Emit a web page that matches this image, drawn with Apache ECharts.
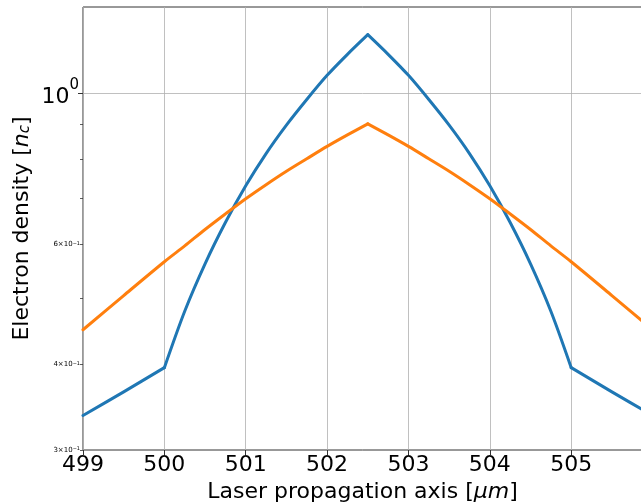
<!DOCTYPE html>
<html>
<head>
<meta charset="utf-8">
<script src="https://cdn.jsdelivr.net/npm/echarts@6/dist/echarts.min.js"></script>
<style>html,body{margin:0;padding:0;background:#fff}#c{width:641px;height:502px}</style>
</head>
<body>
<div id="c"></div>
<script>
// ---- data ----
const xValues = [499, 499.5, 500, 500.25, 500.5, 500.75, 501, 501.25, 501.5, 501.75, 502, 502.25, 502.5,
                 502.75, 503, 503.25, 503.5, 503.75, 504, 504.25, 504.5, 504.75, 505, 505.5, 506];
const blueDensity = [0.337, 0.365, 0.396, 0.479, 0.562, 0.646, 0.731, 0.815, 0.897, 0.978, 1.061, 1.139, 1.217,
                     1.139, 1.061, 0.978, 0.897, 0.815, 0.731, 0.646, 0.562, 0.479, 0.396, 0.365, 0.337];
const orangeDensity = [0.450, 0.505, 0.566, 0.597, 0.631, 0.665, 0.700, 0.734, 0.768, 0.801, 0.835, 0.868, 0.901,
                       0.868, 0.835, 0.801, 0.768, 0.734, 0.700, 0.665, 0.631, 0.597, 0.566, 0.505, 0.450];
const blueKinks = [500, 502.5, 505];
const orangeKinks = [502.5];
const xMin = 499, xMax = 505.87;
const yMin = 0.3, yMax = 1.336;
const majorTickVals = [1];
const minorTickVals = [0.3, 0.4, 0.5, 0.6, 0.7, 0.8, 0.9];
const minorLabelVals = [0.3, 0.4, 0.6];

const FONT = 'DejaVu Sans';
const L = Math.log10;

// split a curve into smooth pieces at its kinks (pieces share the kink point)
function pieces(xs, ys, kinks) {
  const out = [];
  let cur = [];
  xs.forEach((x, i) => {
    cur.push([x, ys[i]]);
    if (kinks.indexOf(x) >= 0) { out.push(cur); cur = [[x, ys[i]]]; }
  });
  if (cur.length > 1) out.push(cur);
  return out;
}
function lineSeries(xs, ys, kinks, color, z) {
  return pieces(xs, ys, kinks).map(d => ({
    type: 'line', xAxisIndex: 0, yAxisIndex: 0, data: d,
    showSymbol: false, symbol: 'none', clip: true, smooth: 0.3,
    lineStyle: {color: color, width: 3, cap: 'round', join: 'round'}, z: z
  }));
}

const series = [].concat(
  lineSeries(xValues, blueDensity, blueKinks, '#1f77b4', 3),
  lineSeries(xValues, orangeDensity, orangeKinks, '#ff7f0e', 4)
);
series[0].markLine = {
  silent: true, symbol: ['none', 'none'], label: {show: false},
  lineStyle: {color: '#b0b0b0', width: 0.8, type: 'solid'},
  data: majorTickVals.map(v => ({yAxis: v})), z: 1
};

const chart = echarts.init(document.getElementById('c'), null, {renderer: 'canvas'});
chart.setOption({
  animation: false,
  backgroundColor: '#fff',
  grid: {left: 83, top: 7, right: -1, bottom: 52, show: true, borderColor: '#333', borderWidth: 1,
         containLabel: false, outerBoundsMode: 'none'},
  xAxis: {
    type: 'value', min: xMin, max: xMax, interval: 1,
    axisLine: {show: false, onZero: false},
    axisTick: {show: true, inside: false, length: 5, lineStyle: {color: '#333', width: 1}},
    axisLabel: {fontFamily: FONT, fontSize: 22, color: '#000', margin: 4, showMaxLabel: false},
    splitLine: {show: true, lineStyle: {color: '#b0b0b0', width: 0.8}},
    name: 'Laser propagation axis [{i|μm}]',
    nameLocation: 'middle', nameGap: 27,
    nameTextStyle: {fontFamily: FONT, fontSize: 22, color: '#000',
      rich: {i: {fontFamily: FONT, fontSize: 22, fontStyle: 'italic', color: '#000'}}}
  },
  yAxis: [
    {
      type: 'log', logBase: 10, min: yMin, max: yMax,
      axisLine: {show: false, onZero: false}, axisTick: {show: false}, axisLabel: {show: false},
      splitLine: {show: false}, minorTick: {show: false},
      name: 'Electron density [{i|n}{s|c}]',
      nameLocation: 'middle', nameGap: 50, nameRotate: 90,
      nameTextStyle: {fontFamily: FONT, fontSize: 22, color: '#000',
        rich: {
          i: {fontFamily: FONT, fontSize: 22, fontStyle: 'italic', color: '#000'},
          s: {fontFamily: FONT, fontSize: 15, fontStyle: 'italic', color: '#000', verticalAlign: 'bottom', padding: [6, 0, 0, 0]}
        }}
    },
    {
      type: 'value', min: L(yMin), max: L(yMax), position: 'left',
      axisLine: {show: false, onZero: false}, splitLine: {show: false},
      axisTick: {show: true, length: 5, customValues: majorTickVals.map(L), lineStyle: {color: '#333', width: 1}},
      axisLabel: {
        customValues: majorTickVals.map(L), margin: 4,
        formatter: v => '{b|10}{s|' + Math.round(v) + '}',
        rich: {
          b: {fontFamily: FONT, fontSize: 22, color: '#000', padding: [8, 0, 0, 0]},
          s: {fontFamily: FONT, fontSize: 15, color: '#000', verticalAlign: 'top'}
        }
      }
    },
    {
      type: 'value', min: L(yMin), max: L(yMax), position: 'left',
      axisLine: {show: false, onZero: false}, splitLine: {show: false},
      axisTick: {show: true, length: 3, customValues: minorTickVals.map(L), lineStyle: {color: '#333', width: 0.8}},
      axisLabel: {
        customValues: minorLabelVals.map(L), margin: 3,
        formatter: v => '{b|' + Math.round(Math.pow(10, v) * 10) + '×10}{s|−1}',
        rich: {
          b: {fontFamily: FONT, fontSize: 7, color: '#000'},
          s: {fontFamily: FONT, fontSize: 5, color: '#000', verticalAlign: 'top'}
        }
      }
    }
  ],
  series: series
});
</script>
</body>
</html>
